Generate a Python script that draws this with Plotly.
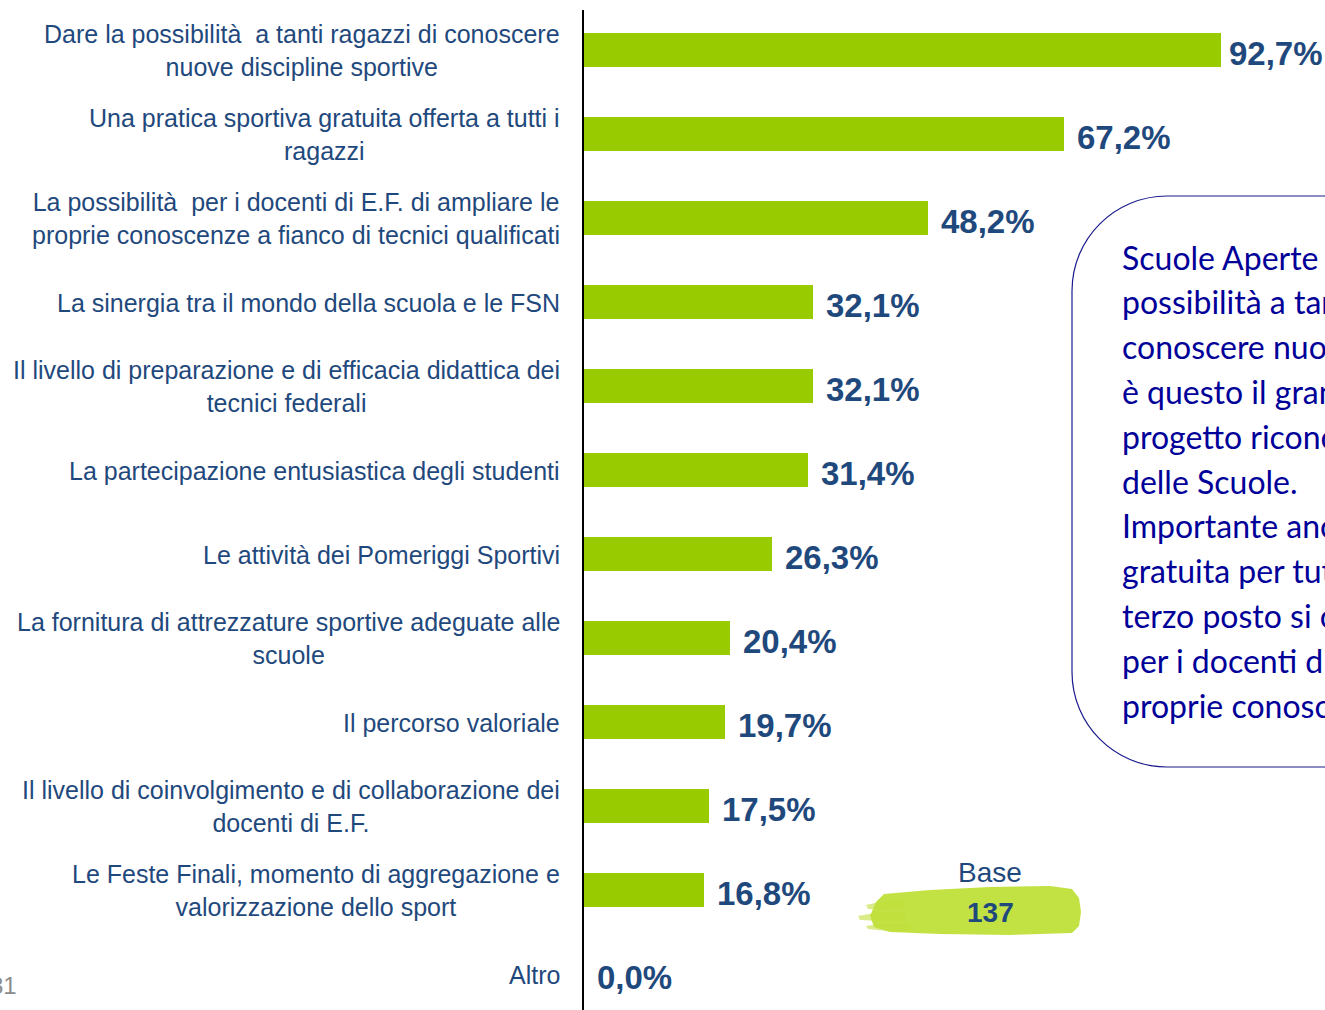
import numpy as np
import plotly.graph_objects as go

# ---------------- data ----------------
categories = [
    "Dare la possibilità  a tanti ragazzi di conoscere<br>nuove discipline sportive",
    "Una pratica sportiva gratuita offerta a tutti i<br>ragazzi",
    "La possibilità  per i docenti di E.F. di ampliare le<br>proprie conoscenze a fianco di tecnici qualificati",
    "La sinergia tra il mondo della scuola e le FSN",
    "Il livello di preparazione e di efficacia didattica dei<br>tecnici federali",
    "La partecipazione entusiastica degli studenti",
    "Le attività dei Pomeriggi Sportivi",
    "La fornitura di attrezzature sportive adeguate alle<br>scuole",
    "Il percorso valoriale",
    "Il livello di coinvolgimento e di collaborazione dei<br>docenti di E.F.",
    "Le Feste Finali, momento di aggregazione e<br>valorizzazione dello sport",
    "Altro",
]
values = [92.7, 67.2, 48.2, 32.1, 32.1, 31.4, 26.3, 20.4, 19.7, 17.5, 16.8, 0.0]
base_label = "Base"
base_value = 137
page_number = "31"
box_lines = [
    "Scuole Aperte offre la",
    "possibilità a tanti ragazzi di",
    "conoscere nuove discipline:",
    "è questo il grande valore del",
    "progetto riconosciuto dal 92,7%",
    "delle Scuole.",
    "Importante anche la pratica",
    "gratuita per tutti i ragazzi. Al",
    "terzo posto si colloca la possibilità",
    "per i docenti di E.F. di ampliare le",
    "proprie conoscenze.",
]

# ---------------- layout constants ----------------
W, H = 1325, 1010
L, R, T, B = 584, 1221, 10, 1010
XMAX = 89.2
GREEN = "#99CC00"
BLUE = "#1F497D"
NAVY = "#000099"
BRUSH = "#BFE03A"


def px(x):
    return (x - L) / (R - L)


def py(y):
    return (B - y) / (B - T)


idx = list(range(len(values)))
labels = [f"{v:.1f}".replace(".", ",") + "%" for v in values]

fig = go.Figure()
fig.add_trace(go.Bar(
    x=values, y=idx, orientation="h", width=0.405,
    marker=dict(color=GREEN, line=dict(width=0)),
    cliponaxis=True, hoverinfo="skip",
))

annotations = []
# value labels (clamped to the axis end, like the clipped first bar)
for i, (v, t) in enumerate(zip(values, labels)):
    clipped = v > XMAX
    annotations.append(dict(
        x=float(min(v, XMAX)), y=i, xref="x", yref="y", text=f"<b>{t}</b>", showarrow=False,
        xanchor="left", yanchor="middle", xshift=6 if clipped else 11, yshift=-4,
        font=dict(family="Liberation Sans, Arial", size=33, color=BLUE),
    ))

for i, c in enumerate(categories):
    annotations.append(dict(
        x=px(562), y=i, xref="paper", yref="y", text=c, showarrow=False,
        xanchor="right", yanchor="middle", align="center", yshift=-1,
        font=dict(family="Liberation Sans, Arial", size=25, color=BLUE),
    ))

annotations.append(dict(x=px(990), y=py(872), xref="paper", yref="paper", text=base_label,
                        showarrow=False, xanchor="center", yanchor="middle",
                        font=dict(family="Liberation Sans, Arial", size=28, color=BLUE)))
annotations.append(dict(x=px(990), y=py(912), xref="paper", yref="paper", text=f"<b>{base_value}</b>",
                        showarrow=False, xanchor="center", yanchor="middle",
                        font=dict(family="Liberation Sans, Arial", size=28, color=BLUE)))
annotations.append(dict(x=px(19), y=py(985), xref="paper", yref="paper", text=page_number,
                        showarrow=False, xanchor="right", yanchor="middle",
                        font=dict(family="Liberation Sans, Arial", size=24, color="#8C8C8C")))

y0 = 257
for k, line in enumerate(box_lines):
    annotations.append(dict(x=px(1120), y=py(y0 + 44.8 * k), xref="paper", yref="paper",
                            text=line, showarrow=False, xanchor="left", yanchor="middle",
                            align="left",
                            font=dict(family="Lato, Open Sans", size=32, color=NAVY)))

# rounded text box (left side visible, right side beyond the page)
bl, bt, bb, br, rr = 1072, 196, 767, 1450, 95
kk = 0.5523


def P(x, y):
    return f"{px(x):.5f},{py(y):.5f}"


def poly(pts):
    return "M " + " L ".join(P(x, y) for x, y in pts) + " Z"


box_path = (
    f"M {P(br, bt)} L {P(bl + rr, bt)} "
    f"C {P(bl + rr - kk * rr, bt)} {P(bl, bt + rr - kk * rr)} {P(bl, bt + rr)} "
    f"L {P(bl, bb - rr)} "
    f"C {P(bl, bb - rr + kk * rr)} {P(bl + rr - kk * rr, bb)} {P(bl + rr, bb)} "
    f"L {P(br, bb)} Z"
)

brush_main = [(884, 894), (930, 890), (990, 887), (1050, 886), (1072, 889), (1079, 898),
              (1081, 912), (1079, 926), (1072, 933), (1010, 935), (940, 934), (890, 932),
              (874, 927), (870, 916), (876, 902)]
streaks = [
    [(866, 905), (884, 901), (905, 900), (905, 909), (884, 910), (868, 909)],
    [(858, 916), (880, 912), (905, 912), (905, 921), (880, 921), (860, 920)],
    [(866, 926), (888, 923), (910, 924), (910, 931), (888, 931), (868, 929)],
]

shapes = [
    dict(type="path", xref="paper", yref="paper", path=poly(brush_main),
         line=dict(width=0), fillcolor=BRUSH, opacity=0.95, layer="below"),
]
for s in streaks:
    shapes.append(dict(type="path", xref="paper", yref="paper", path=poly(s),
                       line=dict(width=0), fillcolor=BRUSH, opacity=0.6, layer="below"))
shapes.append(dict(type="path", xref="paper", yref="paper", path=box_path,
                   line=dict(color="#1A1A8C", width=1.2), fillcolor="rgba(255,255,255,0)",
                   layer="above"))

fig.update_layout(
    width=W, height=H,
    margin=dict(l=L, r=W - R, t=T, b=H - B, pad=0),
    paper_bgcolor="white", plot_bgcolor="white",
    showlegend=False,
    xaxis=dict(range=[0, XMAX], visible=False, fixedrange=True),
    yaxis=dict(range=[11.429, -0.476], showticklabels=False, showgrid=False, zeroline=False,
               showline=True, linecolor="black", linewidth=2, ticks="", fixedrange=True),
    annotations=annotations,
    shapes=shapes,
    bargap=0,
)

fig.write_html("out.html", config={"displayModeBar": False},
               post_script="document.body.style.margin='0';document.body.style.overflow='hidden';")
